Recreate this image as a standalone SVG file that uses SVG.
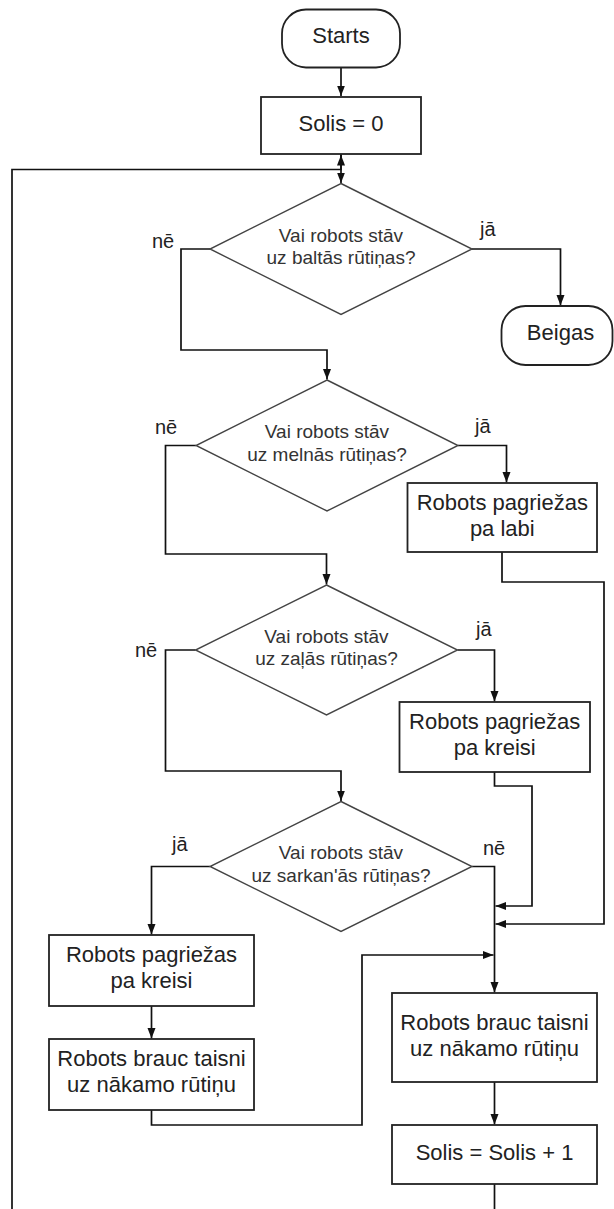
<svg xmlns="http://www.w3.org/2000/svg" width="614" height="1209" viewBox="0 0 614 1209">
<style>
  .shape { fill: #ffffff; stroke: #222222; stroke-width: 1.8; }
  .dia { fill: #ffffff; stroke: #444444; stroke-width: 1.4; }
  .conn { fill: none; stroke: #111111; stroke-width: 1.7; }
  .t { font-family: "Liberation Sans", Arial, sans-serif; font-size: 22px; fill: #222222; text-anchor: middle; }
  .td { font-family: "Liberation Sans", Arial, sans-serif; font-size: 19px; fill: #333333; text-anchor: middle; }
  .lbl { font-family: "Liberation Sans", Arial, sans-serif; font-size: 20px; fill: #222222; }
</style>
<defs>
  <marker id="arr" markerUnits="userSpaceOnUse" markerWidth="11" markerHeight="9" refX="10.5" refY="4.5" orient="auto">
    <path d="M0,0.5 L10.5,4.5 L0,8.5 z" fill="#111111"/>
  </marker>
</defs>

<g id="connectors">
  <path class="conn" d="M341,67.5 V96" marker-end="url(#arr)"/>
  <path class="conn" d="M341,154 V183" marker-end="url(#arr)"/>
  <path class="conn" d="M12,1209 V169.5 H341 V155" marker-end="url(#arr)"/>
  <path class="conn" d="M210,249 H181 V350 H327 V379.5" marker-end="url(#arr)"/>
  <path class="conn" d="M472,249 H560.5 V305.5" marker-end="url(#arr)"/>
  <path class="conn" d="M196,445.5 H165.5 V554 H326.5 V584.5" marker-end="url(#arr)"/>
  <path class="conn" d="M458,445.5 H506.5 V482.5" marker-end="url(#arr)"/>
  <path class="conn" d="M502,552 V582 H604 V924 H495.5" marker-end="url(#arr)"/>
  <path class="conn" d="M195.5,650 H165.5 V771 H341 V801" marker-end="url(#arr)"/>
  <path class="conn" d="M457.5,650 H494.5 V701.5" marker-end="url(#arr)"/>
  <path class="conn" d="M494.5,772 V786 H532 V906 H495.5" marker-end="url(#arr)"/>
  <path class="conn" d="M210,866.5 H151.5 V934.5" marker-end="url(#arr)"/>
  <path class="conn" d="M472,866.5 H494.5 V992.5" marker-end="url(#arr)"/>
  <path class="conn" d="M151.5,1006 V1038.5" marker-end="url(#arr)"/>
  <path class="conn" d="M151.5,1110 V1125 H362 V955 H493.5" marker-end="url(#arr)"/>
  <path class="conn" d="M494.5,1082 V1124.5" marker-end="url(#arr)"/>
  <path class="conn" d="M494.5,1184 V1209"/>
  <text class="lbl" x="152" y="248">nē</text>
  <text class="lbl" x="480" y="236">jā</text>
  <text class="lbl" x="155" y="434">nē</text>
  <text class="lbl" x="475" y="433">jā</text>
  <text class="lbl" x="135" y="657">nē</text>
  <text class="lbl" x="476" y="636">jā</text>
  <text class="lbl" x="172" y="851">jā</text>
  <text class="lbl" x="483" y="855">nē</text>
</g>

<g id="start">
  <rect class="shape" x="282" y="9.5" width="118" height="58" rx="24" ry="24"/>
  <text class="t" x="341" y="43">Starts</text>
</g>
<g id="solis0">
  <rect class="shape" x="261" y="97" width="160" height="57"/>
  <text class="t" x="341" y="131">Solis = 0</text>
</g>
<g id="d1">
  <polygon class="dia" points="341,183.5 472,249 341,314.5 210,249"/>
  <text class="td" x="341" y="241.5">Vai robots stāv</text>
  <text class="td" x="341" y="264">uz baltās rūtiņas?</text>
</g>
<g id="beigas">
  <rect class="shape" x="501.5" y="306" width="111" height="59" rx="24" ry="24"/>
  <text class="t" x="560.5" y="340">Beigas</text>
</g>
<g id="d2">
  <polygon class="dia" points="327,380 458,445.5 327,511 196,445.5"/>
  <text class="td" x="327" y="438">Vai robots stāv</text>
  <text class="td" x="327" y="460.5">uz melnās rūtiņas?</text>
</g>
<g id="labi">
  <rect class="shape" x="407.5" y="483" width="189.5" height="69"/>
  <text class="t" x="502.3" y="509.5">Robots pagriežas</text>
  <text class="t" x="502.3" y="535.5">pa labi</text>
</g>
<g id="d3">
  <polygon class="dia" points="326.5,585 457.5,650 326.5,715 195.5,650"/>
  <text class="td" x="326.5" y="642.5">Vai robots stāv</text>
  <text class="td" x="326.5" y="665">uz zaļās rūtiņas?</text>
</g>
<g id="kreisi1">
  <rect class="shape" x="399.5" y="702" width="190.5" height="70"/>
  <text class="t" x="494.7" y="729">Robots pagriežas</text>
  <text class="t" x="494.7" y="755">pa kreisi</text>
</g>
<g id="d4">
  <polygon class="dia" points="341,801.5 472,866.5 341,931.5 210,866.5"/>
  <text class="td" x="341" y="859">Vai robots stāv</text>
  <text class="td" x="341" y="881.5">uz sarkan'ās rūtiņas?</text>
</g>
<g id="kreisi2">
  <rect class="shape" x="49" y="935" width="205" height="71"/>
  <text class="t" x="151.5" y="962">Robots pagriežas</text>
  <text class="t" x="151.5" y="988">pa kreisi</text>
</g>
<g id="brauc1">
  <rect class="shape" x="49" y="1039" width="205" height="71"/>
  <text class="t" x="151.5" y="1066">Robots brauc taisni</text>
  <text class="t" x="151.5" y="1092">uz nākamo rūtiņu</text>
</g>
<g id="brauc2">
  <rect class="shape" x="392" y="993" width="205" height="89"/>
  <text class="t" x="494.5" y="1030">Robots brauc taisni</text>
  <text class="t" x="494.5" y="1056">uz nākamo rūtiņu</text>
</g>
<g id="solis1">
  <rect class="shape" x="392" y="1125" width="205" height="59"/>
  <text class="t" x="494.5" y="1159.5">Solis = Solis + 1</text>
</g>
</svg>
